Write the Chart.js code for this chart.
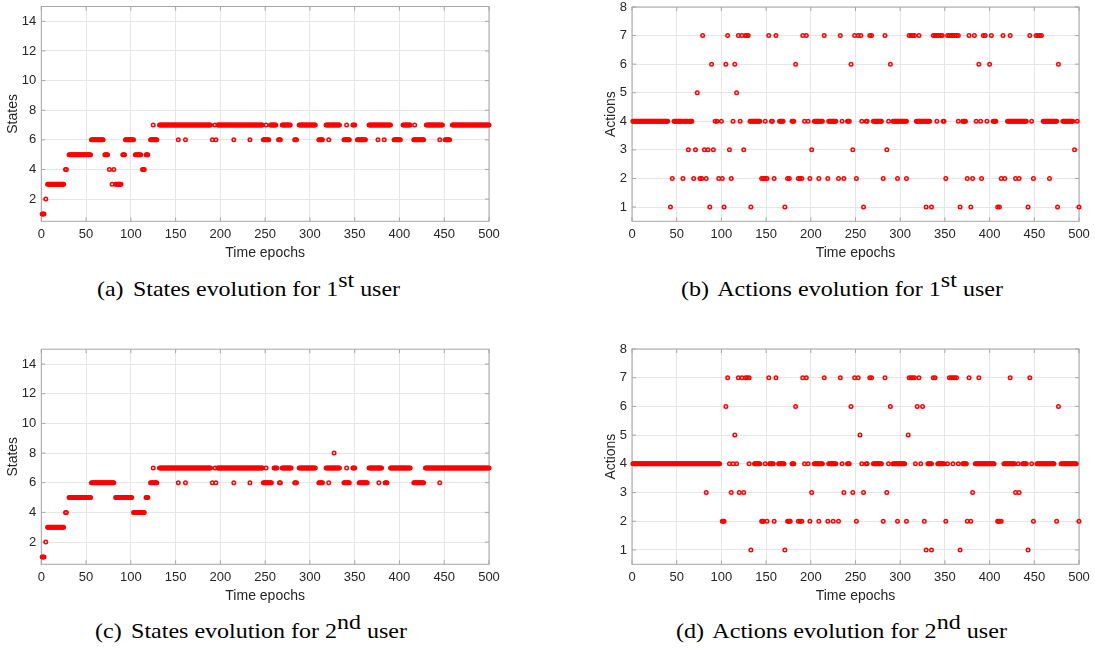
<html>
<head>
<script src="https://cdn.jsdelivr.net/npm/chart.js"></script>
<title>States and actions evolution</title>
<style>
  body { margin: 0; background: #fff; }
  .wrap { position: relative; width: 1095px; height: 648px; overflow: hidden; }
  canvas { position: absolute; }
  .cap {
    position: absolute; white-space: nowrap;
    font-family: "Liberation Serif", "Times New Roman", serif;
    font-size: 21px; line-height: 24px; color: #000;
    transform-origin: 0 0;
  }
  .cap sup { font-size: 1em; vertical-align: 0.42em; line-height: 0; }
  .cap .lbl { margin-right: 3px; }
</style>
</head>
<body>
<div class="wrap">
  <canvas id="chart-a" width="500" height="262" style="left:0px;top:0px"></canvas>
  <canvas id="chart-b" width="500" height="262" style="left:590px;top:0px"></canvas>
  <canvas id="chart-c" width="500" height="262" style="left:0px;top:343.3px"></canvas>
  <canvas id="chart-d" width="500" height="262" style="left:590px;top:343.3px"></canvas>

  <div class="cap" id="cap-a" data-w="303" style="left:97px;top:277px"><span class="lbl">(a)</span> States evolution for 1<sup>st</sup> user</div>
  <div class="cap" id="cap-b" data-w="322" style="left:681px;top:277px"><span class="lbl">(b)</span> Actions evolution for 1<sup>st</sup> user</div>
  <div class="cap" id="cap-c" data-w="312" style="left:95px;top:619px"><span class="lbl">(c)</span> States evolution for 2<sup>nd</sup> user</div>
  <div class="cap" id="cap-d" data-w="331" style="left:676px;top:619px"><span class="lbl">(d)</span> Actions evolution for 2<sup>nd</sup> user</div>
</div>

<script>
  // tick labels
  const xTicks = [0, 50, 100, 150, 200, 250, 300, 350, 400, 450, 500];
  const stateTicks = [2, 4, 6, 8, 10, 12, 14];
  const actionTicks = [1, 2, 3, 4, 5, 6, 7, 8];

  // states: [state, first epoch, last epoch]
  const statesUser1 = [
    [1,1,3],[2,5,5],[3,7,25],[4,27,28],[5,31,55],[6,56,69],[5,71,74],[4,76,76],[3,79,79],[4,81,81],
    [3,83,89],[5,91,93],[6,94,103],[5,105,111],[4,113,115],[5,117,119],[6,122,129],[7,125,125],
    [7,132,189],[6,153,153],[6,161,161],[6,191,191],[7,194,194],[6,195,195],[7,197,247],[6,215,215],
    [6,233,233],[6,248,254],[7,251,251],[7,256,262],[6,265,267],[7,269,278],[6,283,285],[7,288,306],
    [6,310,314],[7,318,333],[6,321,321],[6,338,344],[7,341,341],[7,348,350],[6,353,362],[7,366,390],
    [6,376,376],[6,383,383],[6,394,401],[7,404,412],[6,416,427],[7,417,417],[7,430,448],[6,445,445],
    [6,451,456],[7,459,500]
  ];
  const statesUser2 = [
    [1,1,3],[2,5,5],[3,7,25],[4,27,28],[5,31,55],[6,56,81],[5,83,101],[4,103,115],[5,117,119],
    [6,122,129],[7,125,125],[7,132,189],[6,153,153],[6,161,161],[6,191,191],[7,194,194],[6,195,195],
    [7,197,247],[6,215,215],[6,233,233],[6,248,257],[7,251,251],[7,260,263],[6,266,267],[7,269,279],
    [6,283,285],[7,288,306],[6,310,314],[7,318,333],[6,321,321],[8,327,327],[6,338,344],[7,341,341],
    [7,348,350],[6,355,364],[7,366,380],[6,377,377],[6,384,386],[7,390,412],[6,416,427],[7,429,500],
    [6,445,445]
  ];

  // actions: epochs at each action level, [a, b] = every epoch from a to b
  const user1Action1 = [43, 87, 103, 133, 171, 259, 329, 335, 367, 379, 409, 411, 443, 476, 500];
  const user1Action2 = [45, 57, 69, 76, 78, 83, 97, 101, 111, 145, 147, 149, 151, 159, 174, 176, 186, 188, 190,
    199, 209, 219, 231, 237, 251, 281, 297, 307, 351, 375, 381, 391, 413, 417, 429, 433, 449, 467];
  const user1Action3 = [63, 71, 81, 85, 91, 109, 125, 201, 247, 285, 495];
  const user1Action4 = [[1,40],[47,56],[58,62],[64,67],93,95,100,113,121,[132,143],149,156,157,[165,169],
    [179,181],193,197,[204,213],[220,228],235,[241,243],257,[262,263],[270,279],287,[292,307],[318,333],
    341,[348,349],365,[370,373],385,390,397,[404,407],[420,441],447,[460,475],[482,493],498];
  const user1Action5 = [73, 117];
  const user1Action6 = [89, 105, 115, 183, 245, 289, 388, 400, 477];
  const user1Action7 = [79, 107, 119, 123, 127, 128, 130, 153, 161, 191, 195, 215, 233, 249, 253, 256, 266, 268,
    283, 310, 312, 314, 316, 321, 337, 339, 341, 343, 345, 347, 353, 355, 357, 359, 361, 363, 365, 377, 383,
    393, 395, 402, 415, 423, 445, 452, 454, 456, 458];

  const user2Action1 = [133, 171, 329, 335, 367, 443];
  const user2Action2 = [101, 102, 103, 145, 146, 147, 151, 159, 174, 175, 176, 177, 186, 188, 190, 199, 209, 219,
    225, 231, 251, 281, 297, 307, 327, 351, 375, 379, 409, 410, 411, 413, 449, 475, 500];
  const user2Action3 = [83, 111, 120, 125, 201, 237, 247, 259, 285, 381, 429, 433];
  const user2Action4 = [[1,98],109,113,117,131,[137,143],149,[154,158],[164,170],[179,181],193,197,[204,213],
    [220,228],235,[241,243],257,[262,263],[270,279],287,[292,305],317,323,[331,335],[342,349],353,359,365,
    [370,374],[384,405],[416,428],432,[437,441],447,[453,472],[480,497]];
  const user2Action5 = [115, 255, 309];
  const user2Action6 = [105, 183, 245, 289, 319, 325, 477];
  const user2Action7 = [107, 119, 123, 127, 129, 131, 153, 161, 191, 195, 215, 233, 249, 253, 266, 268, 283,
    310, 312, 314, 316, 321, 337, 339, 355, 357, 359, 361, 363, 377, 388, 423, 445];

  function statePoints(runs) {
    let pts = [];
    runs.forEach(r => {
      for (let e = r[1]; e <= r[2]; e++) pts.push({ x: e, y: r[0] });
    });
    return pts;
  }

  function actionPoints(levels) {
    let pts = [];
    levels.forEach((list, i) => {
      list.forEach(item => {
        if (Array.isArray(item)) {
          for (let e = item[0]; e <= item[1]; e++) pts.push({ x: e, y: i + 1 });
        } else {
          pts.push({ x: item, y: i + 1 });
        }
      });
    });
    return pts;
  }

  const textColor = '#262626';
  const sans = '"Liberation Sans", Arial, Helvetica, sans-serif';

  // full box with inward ticks, like the original axes
  const boxPlugin = {
    id: 'boxPlugin',
    beforeDatasetsDraw(chart) {
      const { ctx, chartArea: a, scales } = chart;
      ctx.save();
      ctx.strokeStyle = '#a6a6a6';
      ctx.lineWidth = 1;
      ctx.strokeRect(a.left, a.top, a.right - a.left, a.bottom - a.top);
      ctx.beginPath();
      scales.x.ticks.forEach(t => {
        const px = scales.x.getPixelForValue(t.value);
        ctx.moveTo(px, a.bottom); ctx.lineTo(px, a.bottom - 4);
        ctx.moveTo(px, a.top); ctx.lineTo(px, a.top + 4);
      });
      scales.y.ticks.forEach(t => {
        const py = scales.y.getPixelForValue(t.value);
        ctx.moveTo(a.left, py); ctx.lineTo(a.left + 4, py);
        ctx.moveTo(a.right, py); ctx.lineTo(a.right - 4, py);
      });
      ctx.stroke();
      ctx.restore();
    }
  };

  function makeChart(id, points, yMax, yTickList, yTitle, padTop, yWidth, yTitlePad) {
    return new Chart(document.getElementById(id), {
      type: 'scatter',
      data: {
        datasets: [{
          data: points,
          showLine: false,
          pointStyle: 'circle',
          pointRadius: 1.75,
          pointBorderWidth: 1.5,
          borderColor: '#ff0000',
          backgroundColor: 'rgba(255,255,255,0)',
          clip: false
        }]
      },
      options: {
        responsive: false,
        animation: false,
        events: [],
        layout: { padding: { left: 0, top: padTop, right: 11, bottom: 0 } },
        plugins: { legend: { display: false }, tooltip: { enabled: false } },
        scales: {
          x: {
            type: 'linear', min: 0, max: 500,
            afterBuildTicks: s => { s.ticks = xTicks.map(v => ({ value: v })); },
            afterFit: s => { s.height = 40.7; s.paddingLeft = 0; s.paddingRight = 0; },
            grid: { color: '#e6e6e6', drawTicks: false },
            border: { display: false },
            ticks: { padding: 5, color: textColor, font: { family: sans, size: 13 }, maxRotation: 0, autoSkip: false },
            title: { display: true, text: 'Time epochs', color: textColor, font: { family: sans, size: 14 }, padding: { top: 0, bottom: 0.3 } }
          },
          y: {
            type: 'linear', min: 0.5, max: yMax,
            afterBuildTicks: s => { s.ticks = yTickList.map(v => ({ value: v })); },
            afterFit: s => { s.width = yWidth; s.paddingTop = 0; s.paddingBottom = 0; },
            grid: { color: '#e6e6e6', drawTicks: false },
            border: { display: false },
            ticks: { padding: 5, color: textColor, font: { family: sans, size: 13 }, autoSkip: false },
            title: { display: true, text: yTitle, color: textColor, font: { family: sans, size: 14 }, padding: { top: yTitlePad, bottom: 0 } }
          }
        }
      },
      plugins: [boxPlugin]
    });
  }

  makeChart('chart-a', statePoints(statesUser1), 15, stateTicks, 'States', 6.5, 41.3, 4.4);
  makeChart('chart-b', actionPoints([user1Action1, user1Action2, user1Action3, user1Action4, user1Action5, user1Action6, user1Action7]),
    8, actionTicks, 'Actions', 7, 42, 12.6);
  makeChart('chart-c', statePoints(statesUser2), 15, stateTicks, 'States', 6.2, 41.3, 4.4);
  makeChart('chart-d', actionPoints([user2Action1, user2Action2, user2Action3, user2Action4, user2Action5, user2Action6, user2Action7]),
    8, actionTicks, 'Actions', 6, 42, 12.6);

  // captions are set in a wide serif; stretch them to the measured width
  document.querySelectorAll('.cap').forEach(el => {
    const w = el.getBoundingClientRect().width;
    el.style.transform = 'scaleX(' + (parseFloat(el.dataset.w) / w) + ')';
  });
</script>
</body>
</html>
